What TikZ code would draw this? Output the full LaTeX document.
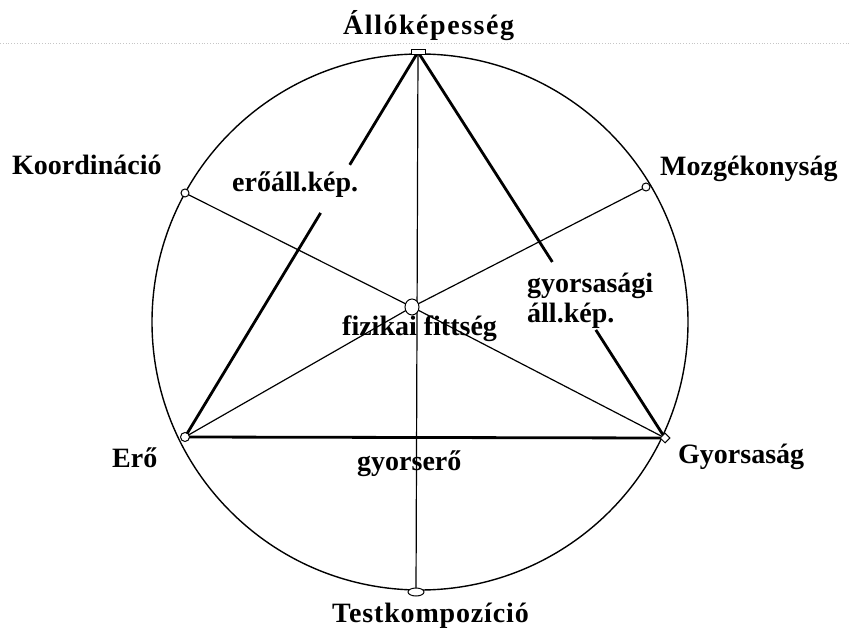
\documentclass[tikz,border=0pt]{standalone}
\usepackage{fontspec}
\setmainfont{Liberation Serif}
\usetikzlibrary{calc,shapes.geometric}
\begin{document}
\begin{tikzpicture}[x=1pt,y=-1pt,
  lbl/.style={font=\fontsize{28}{30}\selectfont\bfseries, inner sep=0pt, anchor=base west},
  thinln/.style={line width=1.2pt},
  thickln/.style={line width=2.8pt},
  rim/.style={line width=1.4pt},
  mk/.style={draw, fill=white, line width=1pt, inner sep=0pt}]
\useasboundingbox (0,0) rectangle (851,628);
% faint scan line at the top
\draw[gray!45, dotted, line width=0.8pt] (0,43) -- (851,43);
% big circle
\draw[rim] (420,322) circle[radius=268pt];
% points
\coordinate (T) at (418,52);
\coordinate (B) at (416,592);
\coordinate (K) at (185,193);
\coordinate (M) at (646,187);
\coordinate (L) at (185,437);
\coordinate (R) at (665,438);
\coordinate (C) at (412,307);
% thin lines through the centre
\draw[thinln] (T) -- (B);
\draw[thinln] (K) -- (C) -- (R);
\draw[thinln] (M) -- (C) -- (L);
% thick triangle (with gaps for labels)
\draw[thickln] (T) -- ($(T)!0.293!(L)$);
\draw[thickln] ($(T)!0.418!(L)$) -- (L);
\draw[thickln] (T) -- ($(T)!0.544!(R)$);
\draw[thickln] ($(T)!0.72!(R)$) -- (R);
\draw[thickln] (L) -- (R);
% markers
\node[mk, rectangle, minimum width=14pt, minimum height=5pt] (mT) at (T) {};
\node[mk, ellipse, minimum width=16pt, minimum height=8pt] (mB) at (B) {};
\node[mk, circle, minimum size=8pt] (mK) at (K) {};
\node[mk, circle, minimum size=8pt] (mM) at (M) {};
\node[mk, circle, minimum size=9pt] (mL) at (L) {};
\node[mk, diamond, minimum size=10pt] (mR) at (R) {};
\node[mk, ellipse, minimum width=14pt, minimum height=16pt] (mC) at (C) {};
% labels
\node[lbl] (tAll) at (343,35) {\addfontfeature{LetterSpace=5.5}Állóképesség};
\node[lbl] (tKoo) at (12,175) {Koordináció};
\node[lbl] (tMoz) at (660,176) {Mozgékonyság};
\node[lbl] (tEal) at (232,192) {erőáll.kép.};
\node[lbl] (tFit) at (342,335) {fizikai fittség};
\node[lbl] (tGy1) at (527,292) {gyorsasági};
\node[lbl] (tGy2) at (527,322) {áll.kép.};
\node[lbl] (tEro) at (112,467) {Erő};
\node[lbl] (tGys) at (678,463) {Gyorsaság};
\node[lbl] (tGye) at (357,470) {gyorserő};
\node[lbl] (tTes) at (332,622) {\addfontfeature{LetterSpace=3}Testkompozíció};
\end{tikzpicture}
\end{document}
